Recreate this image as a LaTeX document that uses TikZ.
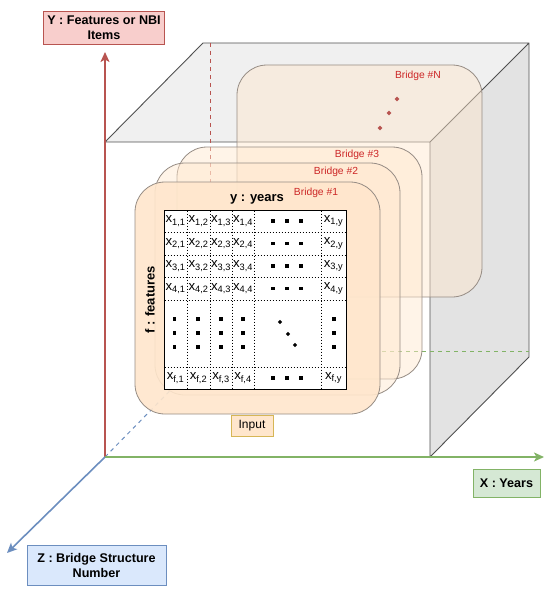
\documentclass[tikz,border=0pt]{standalone}
\usepackage{fontspec}
\setmainfont{Liberation Sans}
\usepackage{tikz}
\usetikzlibrary{arrows.meta}
\definecolor{axred}{RGB}{184,84,80}
\definecolor{axgreen}{RGB}{130,179,102}
\definecolor{axblue}{RGB}{108,142,191}
\definecolor{redbox}{RGB}{248,206,204}
\definecolor{greenbox}{RGB}{213,232,212}
\definecolor{bluebox}{RGB}{218,232,252}
\definecolor{peach}{RGB}{255,230,204}
\definecolor{inputline}{RGB}{214,182,86}
\definecolor{cardline}{RGB}{150,140,132}
\definecolor{bridgered}{RGB}{204,38,38}
\definecolor{topface}{RGB}{240,240,240}
\definecolor{sideface}{RGB}{227,227,227}
\definecolor{edge}{RGB}{80,80,80}

\begin{document}
\begin{tikzpicture}[x=1pt,y=-1pt,
  axis/.style={line width=1.6pt,-{Stealth[length=10pt,width=9pt,inset=2.5pt]}},
  backaxis/.style={line width=1pt,dash pattern=on 4pt off 4pt},
  axlabel/.style={draw,line width=0.8pt,align=center,inner sep=0pt,font=\bfseries\fontsize{12.6}{15}\selectfont},
  card/.style={draw=cardline,line width=0.8pt,fill=peach,fill opacity=0.45,rounded corners=30pt,minimum width=245pt,minimum height=232pt,inner sep=0pt},
  bridge/.style={text=bridgered,inner sep=0pt,font=\fontsize{10.3}{12}\selectfont},
  cell/.style={inner sep=0pt,font=\fontsize{13.2}{15}\selectfont},
  celline/.style={line width=0.6pt,dash pattern=on 1.5pt off 1.5pt}]
\useasboundingbox (0,0) rectangle (550,594);

\coordinate (O) at (105,457);
\coordinate (ftl) at (105,142);
\coordinate (ftr) at (430,142);
\coordinate (fbr) at (430,457);
\coordinate (btl) at (203,43);
\coordinate (btr) at (529,43);
\coordinate (bbr) at (529,357);
\coordinate (bbl) at (203,357);
\fill[topface] (ftl) -- (btl) -- (btr) -- (ftr) -- cycle;
\fill[sideface] (ftr) -- (btr) -- (bbr) -- (fbr) -- cycle;
\draw[edge,line width=0.9pt] (ftl) -- (btl) -- (btr) -- (bbr) -- (fbr) -- (ftr) -- cycle (ftr) -- (btr);

\coordinate (yb0) at (210,43);
\coordinate (yb1) at (210,182);
\coordinate (xb0) at (382,351);
\coordinate (xb1) at (529,351);
\draw[backaxis,axred] (yb0) -- (yb1);
\draw[backaxis,axgreen] (xb0) -- (xb1);
\draw[backaxis,axblue] (O) -- (bbl);

\node (cardN) at (359.5,181) [card] {};
\node (card3) at (299.5,263) [card] {};
\node (card2) at (277.5,279) [card] {};
\node (card1) at (257.5,298) [card,fill opacity=0.9] {};

\node (bN) at (418,76) [bridge] {Bridge \#N};
\node (b3) at (357,155) [bridge] {Bridge \#3};
\node (b2) at (336,172) [bridge] {Bridge \#2};
\node (b1) at (316,193) [bridge] {Bridge \#1};
\foreach \px/\py in {397/99,389/113,380/128}
  \fill[axred] (\px,\py) +(0,-2.4) -- +(2.4,0) -- +(0,2.4) -- +(-2.4,0) -- cycle;

\node (mat) at (255,299.5) [draw,line width=1pt,fill=white,minimum width=182pt,minimum height=179pt,inner sep=0pt] {};
\foreach \gx in {187,210,232,254,321}
  \draw[celline] (\gx,210.5) -- (\gx,388.5);
\foreach \gy in {232,255,277,300,367}
  \draw[celline] (164.5,\gy) -- (345.5,\gy);

\foreach \c/\cx in {1/175.5,2/198.5,3/221,4/243} {
  \foreach \r/\ry in {1/221,2/243.5,3/266,4/288.5}
    \node (x\r\c) at (\cx,\ry) [cell] {x\textsubscript{\r,\c}};
  \node (xf\c) at (\cx,378) [cell] {x\textsubscript{f,\c}};
}
\foreach \r/\ry in {1/221,2/243.5,3/266,4/288.5}
  \node (x\r y) at (333.5,\ry) [cell] {x\textsubscript{\r,y}};
\node (xfy) at (333.5,378) [cell] {x\textsubscript{f,y}};

\foreach \py in {221,243.5,266,288.5,378}
  \foreach \px in {273,287,301}
    \fill (\px,\py) ++(-1.6,-1.6) rectangle ++(3.2,3.2);
\foreach \px in {174.5,198,221,243,334}
  \foreach \py in {319,333,347}
    \fill (\px,\py) ++(-1.6,-1.6) rectangle ++(3.2,3.2);
\foreach \px/\py in {280/322,288/334,295/345}
  \fill (\px,\py) +(0,-2.2) -- +(2.2,0) -- +(0,2.2) -- +(-2.2,0) -- cycle;

\node (years) at (257,199) [inner sep=0pt,font=\bfseries\fontsize{13}{15}\selectfont] {y : years};
\node (feats) at (150,300) [rotate=90,inner sep=0pt,font=\bfseries\fontsize{13}{15}\selectfont] {f : features};

\node (inp) at (252,425.5) [draw=inputline,fill=peach,line width=0.8pt,minimum width=42pt,minimum height=21pt,inner sep=0pt,font=\fontsize{12}{14}\selectfont] {Input};

\coordinate (ytip) at (105,52);
\coordinate (xtip) at (544,457);
\coordinate (ztip) at (7,553);
\draw[axis,axred] (O) -- (ytip);
\draw[axis,axgreen] (O) -- (xtip);
\draw[axis,axblue] (O) -- (ztip);

\node (ylab) at (104,27.5) [axlabel,draw=axred,fill=redbox,minimum width=121pt,minimum height=33pt] {Y : Features or NBI\\Items};
\node (xlab) at (506.5,483) [axlabel,draw=axgreen,fill=greenbox,minimum width=67pt,minimum height=28pt] {X : Years};
\node (zlab) at (96.5,565) [axlabel,draw=axblue,fill=bluebox,minimum width=139pt,minimum height=40pt] {Z : Bridge Structure\\Number};
\end{tikzpicture}
\end{document}
